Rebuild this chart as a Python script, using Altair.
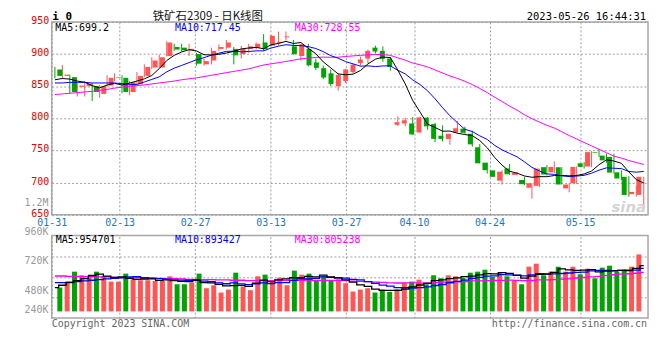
import json
import numpy as np
import pandas as pd
import altair as alt

# ---------------- data ----------------
holidays = ["2023-04-05", "2023-05-01", "2023-05-02", "2023-05-03"]
trade_days = [d for d in pd.bdate_range("2023-01-31", "2023-05-26")
              if d.strftime("%Y-%m-%d") not in holidays]
day_labels = [d.strftime("%m-%d") for d in trade_days]

opens = [876, 866, 864, 849, 850, 850, 838, 851, 863, 863,
         841, 853, 866, 879, 879, 897, 911, 910, 906, 900,
         884, 890, 908, 910, 908, 900, 908, 910, 918, 913,
         917, 926, 912, 897, 908, 887, 878, 870, 850, 858,
         872, 886, 893, 910, 905, 893, 790, 792, 792, 778,
         801, 791, 773, 768, 778, 784, 776, 755, 731, 719,
         703, 722, 712, 704, 692, 695, 724, 716, 724, 691,
         699, 730, 725, 747, 742, 740, 716, 709, 682, 681]
highs = [880, 883, 868, 855, 858, 855, 852, 867, 870, 867,
         858, 872, 884, 895, 899, 920, 916, 916, 916, 902,
         893, 910, 915, 922, 911, 913, 916, 918, 931, 930,
         935, 935, 922, 916, 916, 893, 882, 876, 870, 877,
         885, 896, 907, 913, 912, 895, 803, 801, 802, 802,
         802, 793, 789, 776, 796, 787, 781, 760, 731, 719,
         719, 729, 717, 709, 699, 722, 727, 733, 724, 699,
         725, 732, 749, 752, 745, 745, 719, 710, 695, 709]
lows = [862, 862, 838, 834, 834, 827, 832, 849, 858, 839,
        836, 852, 864, 877, 878, 896, 905, 904, 897, 882,
        882, 884, 905, 907, 884, 893, 902, 907, 905, 912,
        913, 921, 899, 890, 881, 875, 861, 850, 843, 855,
        870, 882, 886, 901, 888, 874, 788, 788, 774, 778,
        782, 763, 764, 759, 778, 776, 756, 730, 714, 709,
        697, 712, 711, 696, 675, 693, 711, 715, 697, 685,
        698, 722, 724, 740, 731, 714, 704, 678, 678, 665]
closes = [866, 868, 841, 851, 854, 841, 850, 863, 864, 841,
          856, 866, 880, 890, 895, 918, 907, 906, 908, 885,
          889, 905, 911, 918, 898, 908, 912, 916, 907.5, 928.5,
          919, 927.5, 900, 915, 882.5, 878.5, 863.5, 853.5, 867.5, 876,
          883.5, 891.5, 905, 904, 892.5, 880, 794, 797, 775, 801.5,
          787.5, 768, 768, 776, 784.5, 777.5, 759.5, 730, 719.5, 709,
          717, 713, 715, 697.5, 699, 721.8, 712.6, 724.4, 697, 697,
          724.4, 724.4, 747.4, 746, 734.6, 715.6, 706.4, 680.8, 685.5, 709]
volumes = [497, 600, 828, 752, 731, 828, 738, 621, 621, 787,
           669, 649, 649, 635, 635, 731, 566, 566, 600, 787,
           483, 545, 393, 455, 807, 518, 442, 731, 766, 642,
           704, 545, 849, 766, 787, 649, 738, 649, 669, 587,
           414, 455, 483, 393, 455, 407, 462, 600, 621, 662,
           566, 752, 690, 752, 731, 697, 807, 828, 869, 718,
           807, 731, 635, 566, 932, 994, 752, 828, 932, 828,
           932, 773, 890, 690, 911, 952, 828, 869, 932, 1187]  # thousands of lots

# moving-average values for the first days (window not yet full)
ma5_head = [860, 862, 861, 858]
ma10_head = [855, 855, 856, 856, 856, 855, 855, 855, 855]
ma30_head = [837, 838, 839, 840, 841, 842, 843.5, 845, 847, 848.5,
             850, 851, 852, 853.5, 855, 856.5, 858, 860, 861.5, 863,
             865, 867, 869, 871, 873, 875, 877, 880, 883]
vma5_head = [497, 545, 600, 642]
vma10_head = [600, 600, 607, 621, 635, 649, 662, 676, 690]
vma30_head = [738, 738, 731, 731, 725, 725, 718, 718, 711, 711,
              704, 697, 697, 690, 690, 683, 683, 676, 669, 669,
              662, 662, 656, 656, 649, 649, 642, 642, 642]

tick_days = ["01-31", "02-13", "02-27", "03-13", "03-27", "04-10", "04-24", "05-15"]
price_ticks = [650, 700, 750, 800, 850, 900, 950]
vol_tick_values = [240000, 480000, 720000, 960000, 1200000]
vol_tick_text = ["240K", "480K", "720K", "960K", "1.2M"]
price_ma_text = ["MA5:699.2", "MA10:717.45", "MA30:728.55"]
vol_ma_text = ["MA5:954701", "MA10:893427", "MA30:805238"]
title_text = "铁矿石2309 - 日K线图"
code_text = "i 0"
time_text = "2023-05-26 16:44:31"
copyright_text = "Copyright 2023 SINA.COM"
url_text = "http://finance.sina.com.cn"

# ---------------- table ----------------
n = len(closes)
df = pd.DataFrame({"i": np.arange(n), "day": day_labels[:n], "o": opens, "h": highs,
                   "l": lows, "c": closes, "v": np.array(volumes) * 1000})
df["dir"] = np.where(df["c"] >= df["o"], "up", "down")


def moving(series, w, head):
    m = series.rolling(w).mean()
    m.iloc[:w - 1] = head
    return m


df["ma5"] = moving(df["c"], 5, ma5_head)
df["ma10"] = moving(df["c"], 10, ma10_head)
df["ma30"] = moving(df["c"], 30, ma30_head)
df["vma5"] = moving(df["v"], 5, np.array(vma5_head) * 1000)
df["vma10"] = moving(df["v"], 10, np.array(vma10_head) * 1000)
df["vma30"] = moving(df["v"], 30, np.array(vma30_head) * 1000)

tick_idx = [day_labels.index(d) for d in tick_days]

# ---------------- style ----------------
MONO = "DejaVu Sans Mono"
RED = "#ff5555"
GREEN = "#00a400"
GRID = "#a0a0a0"
W, HP, HV = 600, 194, 83

col = alt.Color("dir:N", scale=alt.Scale(domain=["up", "down"], range=[RED, GREEN]), legend=None)
xc = alt.X("i:Q", scale=alt.Scale(domain=[-0.427, n - 0.427], nice=False, zero=False), axis=None)
price_scale = alt.Scale(domain=[650, 950], nice=False, zero=False)
vol_scale = alt.Scale(domain=[-139000, 1579000], nice=False, zero=False)


def grid_x(show_labels):
    ax = alt.Axis(values=tick_idx, grid=True, gridDash=[2, 2], gridColor=GRID, ticks=False,
                  tickSize=0, domain=False, title=None, orient="bottom", labels=show_labels,
                  labelExpr=json.dumps(day_labels) + "[datum.value]", labelFlush=False,
                  labelOverlap=False, labelColor="#1a78c8", labelFont=MONO, labelFontSize=10,
                  labelPadding=3)
    return alt.Chart(df).mark_point(opacity=0).encode(
        x=alt.X("i:Q", scale=alt.Scale(domain=[0, n - 1], nice=False, zero=False), axis=ax))


def note(text, x, y, color, size=10, align="left", font=MONO, weight="normal", style="normal"):
    return alt.Chart(pd.DataFrame({"t": [text]})).mark_text(
        align=align, baseline="middle", font=font, fontSize=size, color=color,
        fontWeight=weight, fontStyle=style).encode(x=alt.value(x), y=alt.value(y), text="t:N")


base = alt.Chart(df)

price_axis = alt.Axis(values=price_ticks, grid=True, gridDash=[2, 2], gridColor=GRID,
                      ticks=False, domain=False, title=None, labelColor="#e60000",
                      labelFont=MONO, labelFontSize=10, labelPadding=3, labelOffset=-1.5,
                      labelFlush=False, orient="left")

wick = base.mark_rule(strokeWidth=1).encode(
    x=xc, y=alt.Y("l:Q", scale=price_scale, axis=price_axis), y2="h:Q", color=col)
body = base.mark_bar(size=5).encode(
    x=xc, y=alt.Y("o:Q", scale=price_scale, axis=None), y2="c:Q", color=col)
ma_lines = [base.mark_line(color=cl, strokeWidth=1).encode(
    x=xc, y=alt.Y(f + ":Q", scale=price_scale, axis=None))
    for f, cl in [("ma30", "#ff00ff"), ("ma10", "#0000ff"), ("ma5", "#000000")]]

price_notes = [
    note(price_ma_text[0], 3.5, 6, "#000000"),
    note(price_ma_text[1], 124, 6, "#0000ff"),
    note(price_ma_text[2], 244.5, 6, "#ff00ff"),
    note(code_text, 0.5, -4.5, "#000000", size=11, weight="bold"),
    note(title_text, 157, -4.5, "#111111", size=11.5, align="center", font="Noto Sans CJK SC"),
    note(time_text, 598, -4.5, "#000000", size=10.5, align="right"),
    note("sina", 598, 186, "#d4d4d4", size=15, align="right", font="DejaVu Sans",
         weight="bold", style="italic"),
]

price = alt.layer(grid_x(True), wick, body, *ma_lines, *price_notes).resolve_scale(
    x="independent", y="independent").properties(width=W, height=HP)

# ---------------- volume panel ----------------
ygrid = base.mark_point(opacity=0).encode(
    y=alt.YDatum(0, type="quantitative", scale=alt.Scale(domain=[0, 4], nice=False),
                 axis=alt.Axis(values=[1, 2, 3], grid=True, gridDash=[2, 2], gridColor=GRID,
                               labels=False, ticks=False, domain=False, title=None,
                               orient="left")))
vbars = base.mark_bar(size=5).encode(
    x=xc, y=alt.Y("v:Q", scale=vol_scale, axis=None), y2=alt.datum(0), color=col)
vlines = [base.mark_line(color=cl, strokeWidth=1.3, interpolate="step").encode(
    x=xc, y=alt.Y(f + ":Q", scale=vol_scale, axis=None))
    for f, cl in [("vma30", "#ff00ff"), ("vma10", "#0000ff"), ("vma5", "#000000")]]
vlabels = alt.Chart(pd.DataFrame({"val": vol_tick_values, "txt": vol_tick_text})).mark_text(
    align="right", baseline="middle", font=MONO, fontSize=10, color="#999999").encode(
    x=alt.value(-3.3),
    y=alt.Y("val:Q", scale=alt.Scale(domain=[240000, 480000, 1200000],
                                     range=[75.3, 55.3, -33]), axis=None),
    text="txt:N")
vol_notes = [
    note(vol_ma_text[0], 4, 4.5, "#000000"),
    note(vol_ma_text[1], 124, 4.5, "#0000ff"),
    note(vol_ma_text[2], 244.5, 4.5, "#ff00ff"),
    note(copyright_text, 0, 89, "#666666"),
    note(url_text, 599, 89, "#666666", align="right"),
]

vol = alt.layer(grid_x(False), ygrid, vbars, *vlines, vlabels, *vol_notes).resolve_scale(
    x="independent", y="independent").properties(width=W, height=HV)

chart = alt.vconcat(price, vol, spacing=21, bounds="flush").properties(
    padding={"left": 15, "top": 1, "right": 0, "bottom": 4},
    background="white",
).configure_view(stroke="#a8a8a8", strokeWidth=1.5)

chart.save("out.html", embed_options={"renderer": "svg", "actions": False})
